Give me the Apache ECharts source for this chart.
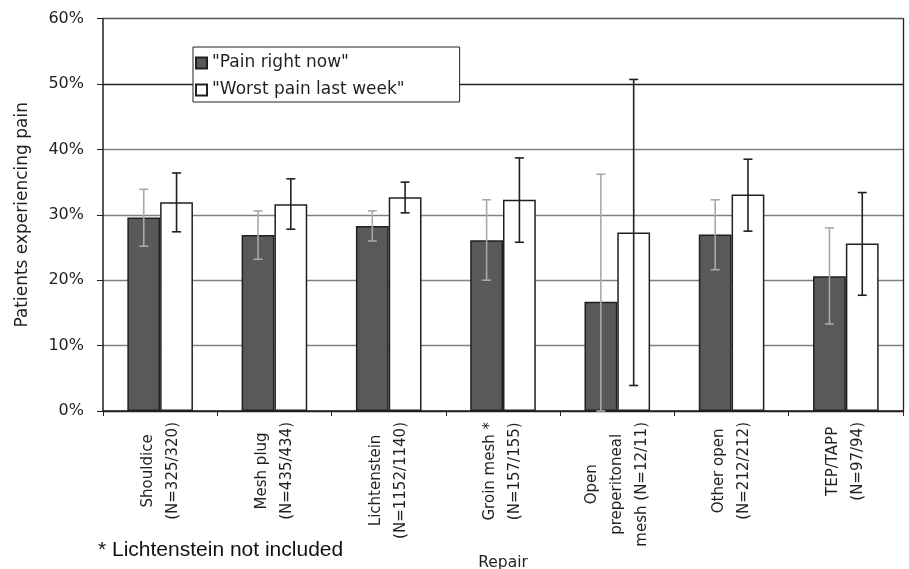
<!DOCTYPE html>
<html>
<head>
<meta charset="utf-8">
<script src="https://cdn.jsdelivr.net/npm/echarts@6/dist/echarts.min.js"></script>
<style>
html,body{margin:0;padding:0;background:#fff;}
#c{width:909px;height:569px;}
</style>
</head>
<body>
<div id="c"></div>
<script>
const categories = ['Shouldice\n(N=325/320)', 'Mesh plug\n(N=435/434)', 'Lichtenstein\n(N=1152/1140)', 'Groin mesh *\n(N=157/155)', 'Open\npreperitoneal\nmesh (N=12/11)', 'Other open\n(N=212/212)', 'TEP/TAPP\n(N=97/94)'];
const seriesNames = ['"Pain right now"', '"Worst pain last week"'];
const painNow = [29.6, 26.9, 28.3, 26.1, 16.7, 27.0, 20.6];
const painNowLow = [25.2, 23.2, 26.0, 20.0, 0, 21.6, 13.3];
const painNowHigh = [33.9, 30.6, 30.6, 32.3, 36.2, 32.3, 28.0];
const painWeek = [31.9, 31.6, 32.7, 32.3, 27.3, 33.1, 25.6];
const painWeekLow = [27.4, 27.8, 30.3, 25.8, 3.9, 27.5, 17.7];
const painWeekHigh = [36.4, 35.5, 35.0, 38.7, 50.7, 38.5, 33.4];
const yTicks = [0, 10, 20, 30, 40, 50, 60];

const CAT_GAP = 0.426;
const FONT = 'DejaVu Sans';

function errRender(sign, color) {
  return function (params, api) {
    const i = api.value(0), lo = api.value(1), hi = api.value(2);
    const band = api.size([1, 0])[0];
    const bw = band * (1 - CAT_GAP) / 2;
    const x = api.coord([i, 0])[0] + sign * bw / 2;
    const yLo = api.coord([i, lo])[1];
    const yHi = api.coord([i, hi])[1];
    const cap = 4.5;
    const st = { stroke: color, lineWidth: 1.6 };
    return {
      type: 'group',
      children: [
        { type: 'line', shape: { x1: x, y1: yLo, x2: x, y2: yHi }, style: st },
        { type: 'line', shape: { x1: x - cap, y1: yHi, x2: x + cap, y2: yHi }, style: st },
        { type: 'line', shape: { x1: x - cap, y1: yLo, x2: x + cap, y2: yLo }, style: st }
      ]
    };
  };
}

const chart = echarts.init(document.getElementById('c'), null, { renderer: 'canvas' });
chart.setOption({
  animation: false,
  backgroundColor: '#fff',
  title: [{
    text: '* Lichtenstein not included',
    left: 98, top: 540, padding: 0,
    textStyle: { fontFamily: 'Liberation Sans', fontSize: 21, fontWeight: 'normal', color: '#111' }
  }],
  legend: {
    orient: 'vertical',
    left: 193, top: 47,
    data: seriesNames,
    itemWidth: 11, itemHeight: 11, itemGap: 9,
    padding: [7, 55, 3, 2],
    borderColor: '#231f20', borderWidth: 1,
    backgroundColor: '#fff',
    icon: 'rect',
    textStyle: { fontFamily: FONT, fontSize: 17, lineHeight: 18, color: '#231f20' }
  },
  grid: { left: 103, right: 6, top: 18.6, bottom: 158, containLabel: false, outerBoundsMode: 'none' },
  xAxis: {
    type: 'category',
    data: categories,
    name: 'Repair',
    nameLocation: 'middle',
    nameGap: 143,
    nameTextStyle: { fontFamily: FONT, fontSize: 15.5, color: '#231f20' },
    axisLine: { lineStyle: { color: '#231f20', width: 1.5 } },
    axisTick: { show: true, length: 5, alignWithLabel: false, lineStyle: { color: '#231f20' } },
    axisLabel: {
      interval: 0, rotate: 90, margin: 11,
      formatter: function (v) { return v.split('\n').map(s => '{c|' + s + '}').join('\n'); },
      rich: { c: { align: 'center', fontFamily: FONT, fontSize: 15, lineHeight: 25, color: '#231f20' } }
    },
    splitLine: { show: false }
  },
  yAxis: [{
    type: 'value',
    min: yTicks[0], max: yTicks[yTicks.length - 1], interval: 10,
    name: 'Patients experiencing pain',
    nameLocation: 'middle',
    nameGap: 72,
    nameTextStyle: { fontFamily: FONT, fontSize: 17, color: '#231f20' },
    axisLine: { show: true, lineStyle: { color: '#231f20', width: 1.5 } },
    axisTick: { show: true, length: 6, inside: false, lineStyle: { color: '#231f20' } },
    axisLabel: { formatter: '{value}%', margin: 19, fontFamily: FONT, fontSize: 16, color: '#231f20' },
    splitLine: { show: true, lineStyle: { color: ['#231f20', '#808080', '#808080', '#808080', '#808080', '#222222', '#555555'], width: 1.3 } }
  }, {
    type: 'value', position: 'right',
    min: yTicks[0], max: yTicks[yTicks.length - 1], interval: 10,
    axisLine: { show: true, lineStyle: { color: '#231f20', width: 1.3 } },
    axisTick: { show: false }, axisLabel: { show: false }, splitLine: { show: false }
  }],
  series: [{
    name: seriesNames[0], type: 'bar', data: painNow,
    barGap: '0%', barCategoryGap: (CAT_GAP * 100) + '%',
    itemStyle: { color: '#58595b', borderColor: '#231f20', borderWidth: 1.5 }
  }, {
    name: seriesNames[1], type: 'bar', data: painWeek,
    barGap: '0%', barCategoryGap: (CAT_GAP * 100) + '%',
    itemStyle: { color: '#ffffff', borderColor: '#231f20', borderWidth: 1.5 }
  }, {
    name: 'errNow', type: 'custom', z: 10,
    renderItem: errRender(-1, '#a7a9ac'),
    data: painNow.map((v, i) => [i, painNowLow[i], painNowHigh[i]])
  }, {
    name: 'errWeek', type: 'custom', z: 10,
    renderItem: errRender(1, '#231f20'),
    data: painWeek.map((v, i) => [i, painWeekLow[i], painWeekHigh[i]])
  }]
});
</script>
</body>
</html>
